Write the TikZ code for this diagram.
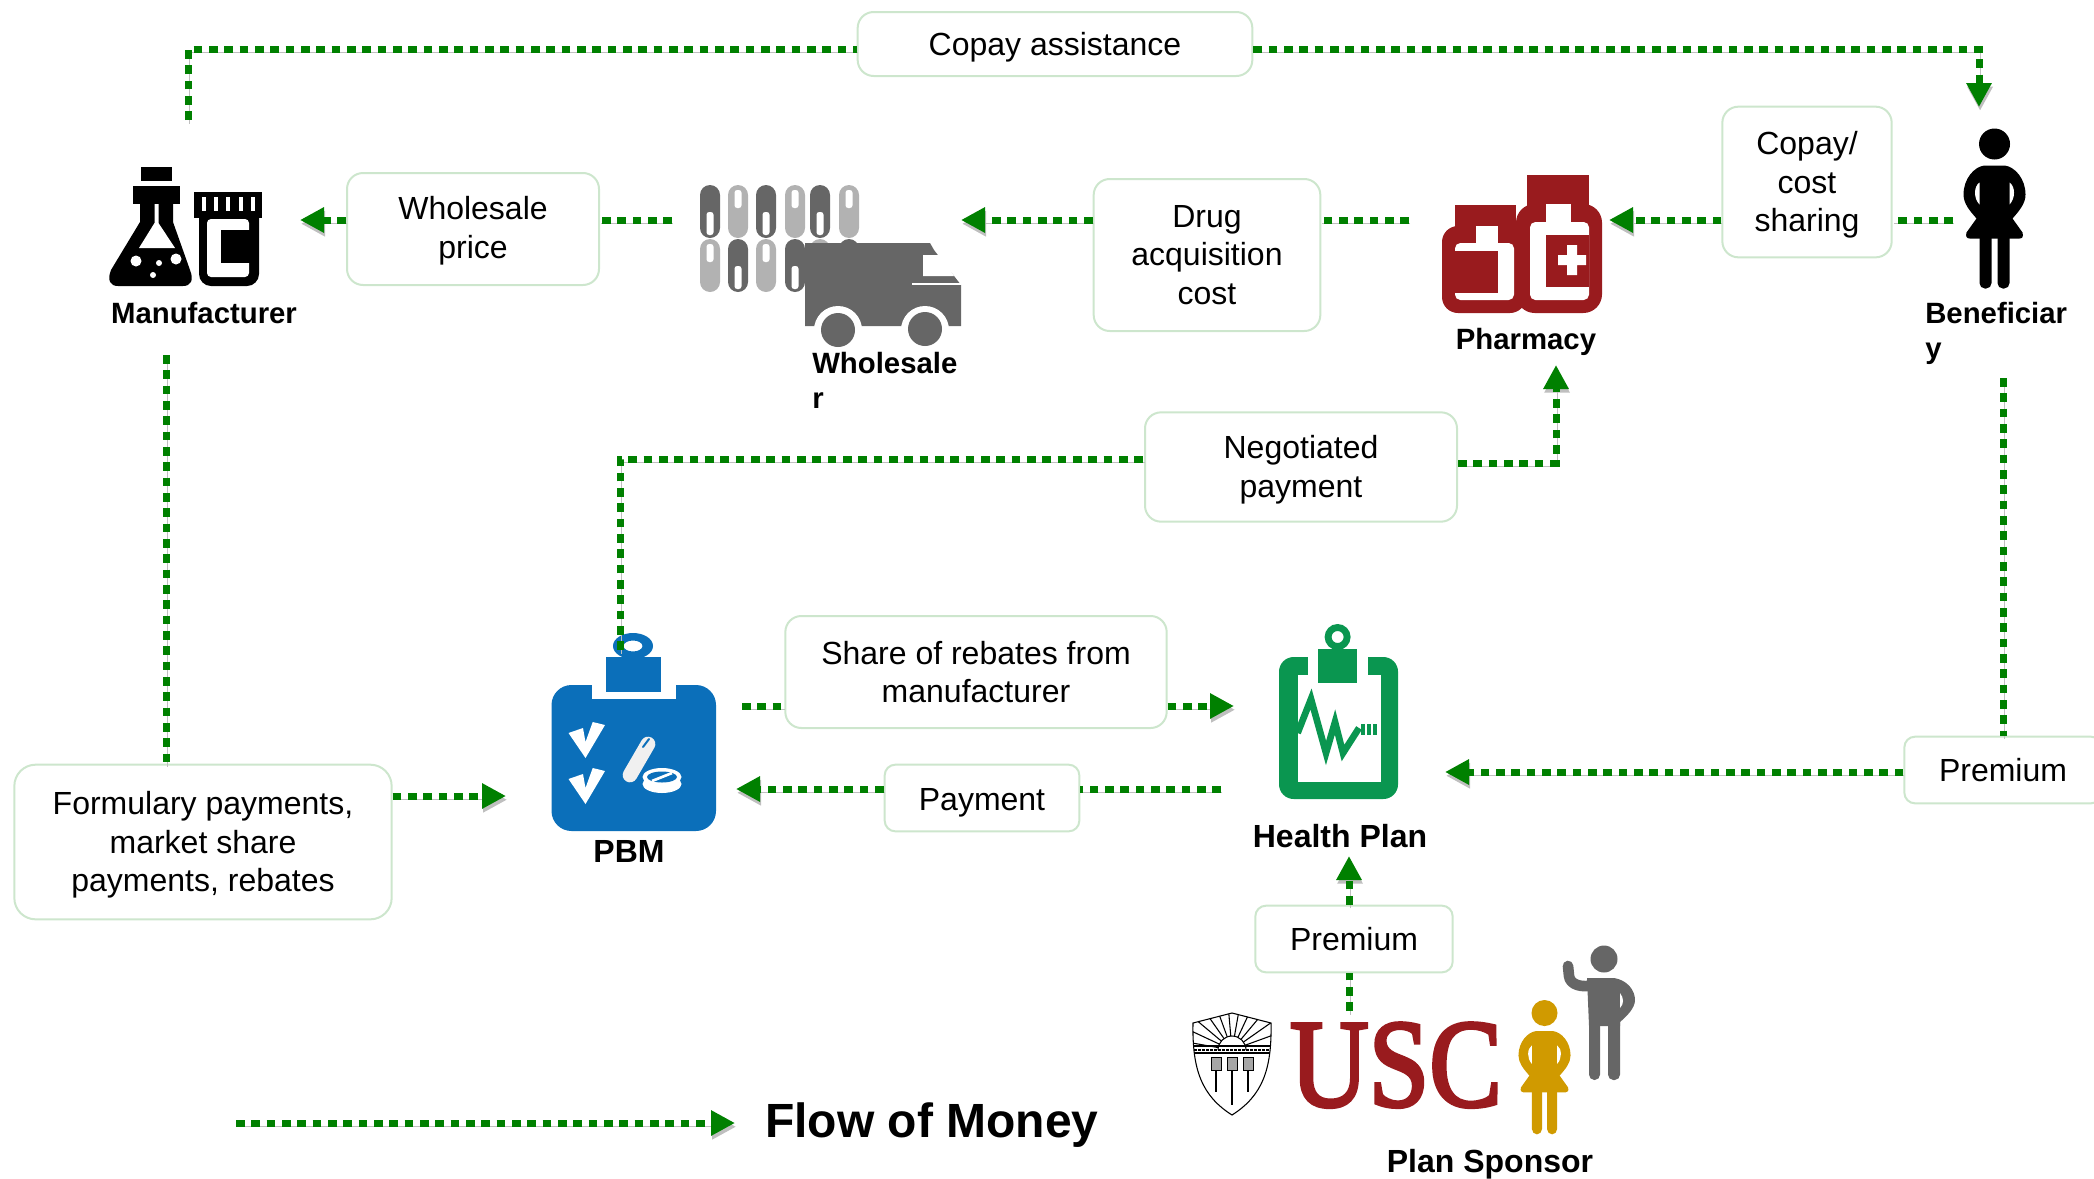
\documentclass[tikz,border=0pt]{standalone}
\usepackage{fontspec}
\setmainfont{Liberation Sans}
\newfontfamily\uscfont[FakeBold=3]{Liberation Serif}
\usepackage{xcolor}
\usetikzlibrary{arrows.meta}
\definecolor{flowgreen}{HTML}{008000}
\definecolor{boxgreen}{HTML}{CDE6CD}
\definecolor{pharmred}{HTML}{991B1E}
\definecolor{pbmblue}{HTML}{0B6FBA}
\definecolor{plangreen}{HTML}{0A9650}
\definecolor{truckgray}{HTML}{666666}
\definecolor{pilllight}{HTML}{B2B2B2}
\definecolor{sponsorgold}{HTML}{D09A00}
\tikzset{
	flow/.style={draw=flowgreen,line width=5.25pt,dash pattern=on 6.5pt off 5pt,preaction={draw=black!25,transform canvas={xshift=0.8pt,yshift=-2.8pt}}},
	flowarrow/.style={flow,-{Triangle[length=18pt,width=18pt,fill=flowgreen]}},
	moneybox/.style={draw=boxgreen,line width=1.5pt,fill=white,rounded corners=12pt,align=center,inner sep=0pt,font=\fontsize{24}{29}\selectfont},
	entity/.style={inner sep=0pt,align=left,font=\bfseries\fontsize{22}{26}\selectfont},
	bigentity/.style={inner sep=0pt,font=\bfseries\fontsize{24}{29}\selectfont}
}
\newcommand{\toplift}[1]{\rule{0pt}{#1}}
\newcommand{\womanicon}[4]{
	\begin{scope}[shift={(#1,#2)},scale=#3]
	\fill[#4] (0,15.5) circle (15.5);
	\fill[#4] (-10,37) .. controls (-20,38) and (-31,50) .. (-31,66) .. controls (-31,75) and (-25,82) .. (-18,90) -- (-28,104) .. controls (-29,108) and (-28,110) .. (-25,110) -- (25,110) .. controls (28,110) and (29,108) .. (28,104) -- (18,90) .. controls (25,82) and (31,75) .. (31,66) .. controls (31,50) and (20,38) .. (10,37) -- cycle;
	\fill[#4,rounded corners=4pt] (-15,100) rectangle (-3,160);
	\fill[#4,rounded corners=4pt] (3,100) rectangle (15,160);
	\fill[white] (-15,54) .. controls (-21,58) and (-21,70) .. (-15,76) -- cycle;
	\fill[white] (15,54) .. controls (21,58) and (21,70) .. (15,76) -- cycle;
	\end{scope}
}
\begin{document}
\begin{tikzpicture}[x=0.75pt,y=0.75pt,yscale=-1,xscale=1]
	\useasboundingbox (0,0) rectangle (2094,1178);
	\fill (141,167) rectangle (172,181);
	\fill (133,186) rectangle (180,204);
	\fill (140,204) -- (140,222) -- (111,270) .. controls (107,280) and (110,286) .. (118,286) -- (183,286) .. controls (191,286) and (194,280) .. (190,270) -- (173,222) -- (173,204) -- cycle;
	\fill[white] (154.5,204) -- (158.5,204) -- (158.5,223) -- (175,248) -- (139,248) -- (154.5,223) -- cycle;
	\fill[white] (136,261) circle (5.5) (176,259) circle (5.5) (159,263) circle (3) (153,275) circle (3);
	\fill[rounded corners=9pt] (199,205) rectangle (259,286);
	\fill (194,192) rectangle (262,218);
	\foreach \sx in {203.5,216,228,241,253} \fill[white] ({\sx-2},197) rectangle ({\sx+2},211);
	\fill[white,rounded corners=3pt] (207,219) rectangle (249,277);
	\fill (221,230) rectangle (250,263);
	\foreach \px/\py in {710/185,766/185,820/185,738/239,795/239,849/239} {
		\fill[truckgray,rounded corners=7.5pt] ({\px-10},\py) rectangle ({\px+10},{\py+53});
		\fill[white,rounded corners=2pt] ({\px-3.5},{\py+27}) rectangle ({\px+3.5},{\py+50});
	}
	\foreach \px/\py in {738/185,795/185,849/185,710/239,766/239,820/239} {
		\fill[pilllight,rounded corners=7.5pt] ({\px-10},\py) rectangle ({\px+10},{\py+53});
		\fill[white,rounded corners=2pt] ({\px-3.5},{\py+5}) rectangle ({\px+3.5},{\py+23});
	}
	\fill[truckgray] (805,243) -- (930,243) -- (934,250) -- (961,285) -- (961,326) -- (805,326) -- cycle;
	\fill[white] (923,255) -- (941,255) -- (954,276) -- (923,276) -- cycle;
	\fill[white] (912,283) rectangle (961,285);
	\fill[white] (838,330) circle (24) (925,330) circle (24);
	\fill[truckgray] (838,330) circle (17) (925,329) circle (17);
	\fill[pharmred] (1455,205) rectangle (1516,230);
	\fill[pharmred,rounded corners=12pt] (1442,226) rectangle (1526,313);
	\fill[white,rounded corners=4pt] (1455,243) rectangle (1514,300);
	\fill[white] (1476,226) rectangle (1498,246);
	\fill[pharmred] (1455,251) rectangle (1498,293);
	\fill[pharmred] (1527,175) rectangle (1589,208);
	\fill[pharmred,rounded corners=14pt] (1516,204) rectangle (1602,313);
	\fill[white,rounded corners=4pt] (1530,222) rectangle (1589,300);
	\fill[white] (1546,204) rectangle (1571,226);
	\fill[pharmred] (1546,235) rectangle (1589,287);
	\fill[white] (1558,255) rectangle (1586,265) (1567,245) rectangle (1577,275);
	\womanicon{1994.5}{128.5}{1}{black}
	\fill[pbmblue,rounded corners=15pt] (551.5,685) rectangle (716,831);
	\fill[white] (591.5,685) rectangle (676,699);
	\fill[pbmblue] (606,657) rectangle (661,692);
	\fill[pbmblue,even odd rule] (633,646) ellipse (20 and 13) (633,646) ellipse (9.5 and 5.5);
	\foreach \dy in {0,46} \fill[white] (568.5,{733+\dy}) -- (583,{728+\dy}) -- (585.5,{742+\dy}) -- (592.7,{722+\dy}) -- (605,{725+\dy}) -- (585.5,{758+\dy}) -- cycle;
	\draw[line width=11pt,line cap=round,color=black!6] (630,775) -- (648,744);
	\draw[line width=1.5pt,line cap=round,pbmblue] (643,747) -- (649,739);
	\fill[white] (662,784) ellipse (19.5 and 9);
	\fill[white] (662,777) ellipse (19.5 and 9);
	\fill[pbmblue] (662,777) ellipse (15 and 5.5);
	\draw[white,line width=2pt] (652,781) -- (672,773);
	\fill[plangreen,rounded corners=11pt] (1279,657) rectangle (1398,799);
	\fill[white] (1297.5,675) rectangle (1380.6,782);
	\fill[white] (1308,657) rectangle (1368,676);
	\fill[plangreen] (1318,649) rectangle (1357,683);
	\fill[plangreen,even odd rule] (1337.6,637) circle (13) (1337.6,637) circle (6);
	\draw[plangreen,line width=5pt,line join=miter] (1297.6,733) -- (1311,699) -- (1326,753) -- (1335,722) -- (1343,753) -- (1359,728);
	\foreach \sx in {1363,1369,1375} \draw[plangreen,line width=2.5pt] (\sx,724) -- (\sx,735);
	\node[anchor=base,inner sep=0pt,text=pharmred,font=\uscfont\fontsize{94}{94}\selectfont] (usctext) at (1396,1106) {\scalebox{0.87}[1]{USC}};
	\begin{scope}
		\clip (1193,1023) -- (1232,1013) -- (1271,1023) .. controls (1272,1070) and (1262,1096) .. (1232,1115) .. controls (1202,1096) and (1192,1070) .. (1193,1023) -- cycle;
		\foreach \ang in {-170,-155,...,-10} \draw[line width=0.8pt] (1232,1050) ++(\ang:14) -- ++(\ang:40);
		\fill[white] (1190,1050) rectangle (1274,1120);
		\draw[line width=0.8pt] (1190,1046) -- (1274,1046) (1190,1053) -- (1274,1053);
		\draw[line width=1.6pt,dash pattern=on 2pt off 1pt] (1190,1050) -- (1274,1050);
	\end{scope}
	\draw[line width=0.8pt] (1193,1023) -- (1232,1013) -- (1271,1023) .. controls (1272,1070) and (1262,1096) .. (1232,1115) .. controls (1202,1096) and (1192,1070) .. (1193,1023) -- cycle;
	\draw[line width=0.8pt] (1218,1050) arc (180:360:14);
	\foreach \tx/\tl in {1216/1092,1232/1105,1248/1092} {
		\draw[line width=0.7pt,fill=black!35] ({\tx-5},1057) rectangle ({\tx+5},1070);
		\draw[line width=2pt] (\tx,1070) -- (\tx,\tl);
	}
	\womanicon{1544.5}{1000}{0.84}{sponsorgold}
	\fill[truckgray] (1604,959) circle (13.5);
	\fill[truckgray] (1587,978) -- (1614,978) .. controls (1627,980) and (1635,990) .. (1635,1000) .. controls (1635,1008) and (1627,1016) .. (1620,1022) -- (1620,1026) -- (1589,1026) -- cycle;
	\draw[truckgray,line width=8pt,line cap=round,line join=round] (1568,966) -- (1569,976) .. controls (1570,985) and (1582,988) .. (1594,985);
	\fill[truckgray,rounded corners=4pt] (1589,1010) rectangle (1600,1080);
	\fill[truckgray,rounded corners=4pt] (1608,1010) rectangle (1620,1080);
	\fill[white] (1620,993) .. controls (1624,998) and (1624,1004) .. (1620,1008) -- cycle;
	\node[moneybox,minimum width=296pt,minimum height=48pt] (copay) at (1055,44) {\toplift{21.5pt}Copay assistance};
	\node[moneybox,minimum width=189pt,minimum height=84pt] (wprice) at (473,229) {\toplift{19.5pt}Wholesale\\price};
	\node[moneybox,minimum width=170pt,minimum height=114pt] (drugcost) at (1207,255) {Drug\\acquisition\\cost};
	\node[moneybox,minimum width=127pt,minimum height=113pt] (copayshare) at (1807,182) {\toplift{21.5pt}Copay/\\cost\\sharing};
	\node[moneybox,minimum width=234pt,minimum height=82pt] (negotiated) at (1301,467) {\toplift{21.5pt}Negotiated\\payment};
	\node[moneybox,minimum width=286pt,minimum height=84pt] (rebates) at (976,672) {Share of rebates from\\manufacturer};
	\node[moneybox,minimum width=146pt,minimum height=50pt,rounded corners=8pt] (payment) at (982,798) {\toplift{23.5pt}Payment};
	\node[moneybox,minimum width=148pt,minimum height=50pt,rounded corners=8pt] (premright) at (2003,770) {Premium};
	\node[moneybox,minimum width=148pt,minimum height=50pt,rounded corners=8pt] (premlow) at (1354,939) {Premium};
	\node[moneybox,minimum width=283pt,minimum height=116pt,rounded corners=16pt] (formulary) at (203,842) {\toplift{21.5pt}Formulary payments,\\market share\\payments, rebates};
	\node[entity,anchor=center] (mfrlabel) at (204,313) {Manufacturer};
	\node[entity,anchor=north west] (wholelabel) at (812,352) {Wholesale\\r};
	\node[entity,anchor=center] (pharmlabel) at (1526,342) {Pharmacy};
	\node[entity,anchor=north west] (beneflabel) at (1925,302) {Beneficiar\\y};
	\node[bigentity] (pbmlabel) at (629,851) {PBM};
	\node[bigentity] (planlabel) at (1340,836) {Health Plan};
	\node[bigentity] (sponsorlabel) at (1490,1164) {Plan Sponsor};
	\node[anchor=west,inner sep=0pt,font=\bfseries\fontsize{36}{40}\selectfont] (legendlabel) at (765,1125) {Flow of Money};
	\coordinate (copayrow) at (0,49);
	\coordinate (pricerow) at (0,220);
	\coordinate (mfrout) at (188,120);
	\coordinate (benefin) at (1979,107);
	\coordinate (mfrin) at (300,220);
	\coordinate (wholeout) at (672,220);
	\coordinate (wholein) at (961,220);
	\coordinate (pharmout) at (1409,220);
	\coordinate (pharmin) at (1609,220);
	\coordinate (benefout) at (1953,220);
	\coordinate (pbmout) at (620,650);
	\coordinate (negrow) at (0,459);
	\coordinate (negrowb) at (0,463);
	\coordinate (pharmbelow) at (1556,365);
	\coordinate (pbmright) at (742,706);
	\coordinate (planin) at (1234,706);
	\coordinate (planout) at (1221,789);
	\coordinate (pbmin) at (736,789);
	\coordinate (mfrbelow) at (166,355);
	\coordinate (formrow) at (0,796);
	\coordinate (pbmfrom) at (506,796);
	\coordinate (benefbelow) at (2003,378);
	\coordinate (premrow) at (0,772);
	\coordinate (planright) at (1445,772);
	\coordinate (uscout) at (1349,1011);
	\coordinate (planbelow) at (1349,856);
	\coordinate (legendstart) at (236,1123);
	\coordinate (legendend) at (735,1123);
	\draw[flow] (mfrout) |- (copay.west |- copayrow);
	\draw[flowarrow] (copay.east |- copayrow) -| (benefin);
	\draw[flowarrow] (wprice.west |- pricerow) -- (mfrin);
	\draw[flow] (wholeout) -- (wprice.east |- pricerow);
	\draw[flowarrow] (drugcost.west |- pricerow) -- (wholein);
	\draw[flow] (pharmout) -- (drugcost.east |- pricerow);
	\draw[flowarrow] (copayshare.west |- pricerow) -- (pharmin);
	\draw[flow] (benefout) -- (copayshare.east |- pricerow);
	\draw[flow] (pbmout) |- (negotiated.west |- negrow);
	\draw[flowarrow] (negotiated.east |- negrowb) -| (pharmbelow);
	\draw[flow] (pbmright) -- (rebates.west |- pbmright);
	\draw[flowarrow] (rebates.east |- pbmright) -- (planin);
	\draw[flow] (planout) -- (payment.east |- planout);
	\draw[flowarrow] (payment.west |- planout) -- (pbmin);
	\draw[flow] (mfrbelow) -- (formulary.north -| mfrbelow);
	\draw[flowarrow] (formulary.east |- formrow) -- (pbmfrom);
	\draw[flow] (benefbelow) -- (premright.north);
	\draw[flowarrow] (premright.west |- premrow) -- (planright);
	\draw[flow] (uscout) -- (premlow.south -| uscout);
	\draw[flowarrow] (premlow.north -| uscout) -- (planbelow);
	\draw[flowarrow] (legendstart) -- (legendend);
\end{tikzpicture}
\end{document}
